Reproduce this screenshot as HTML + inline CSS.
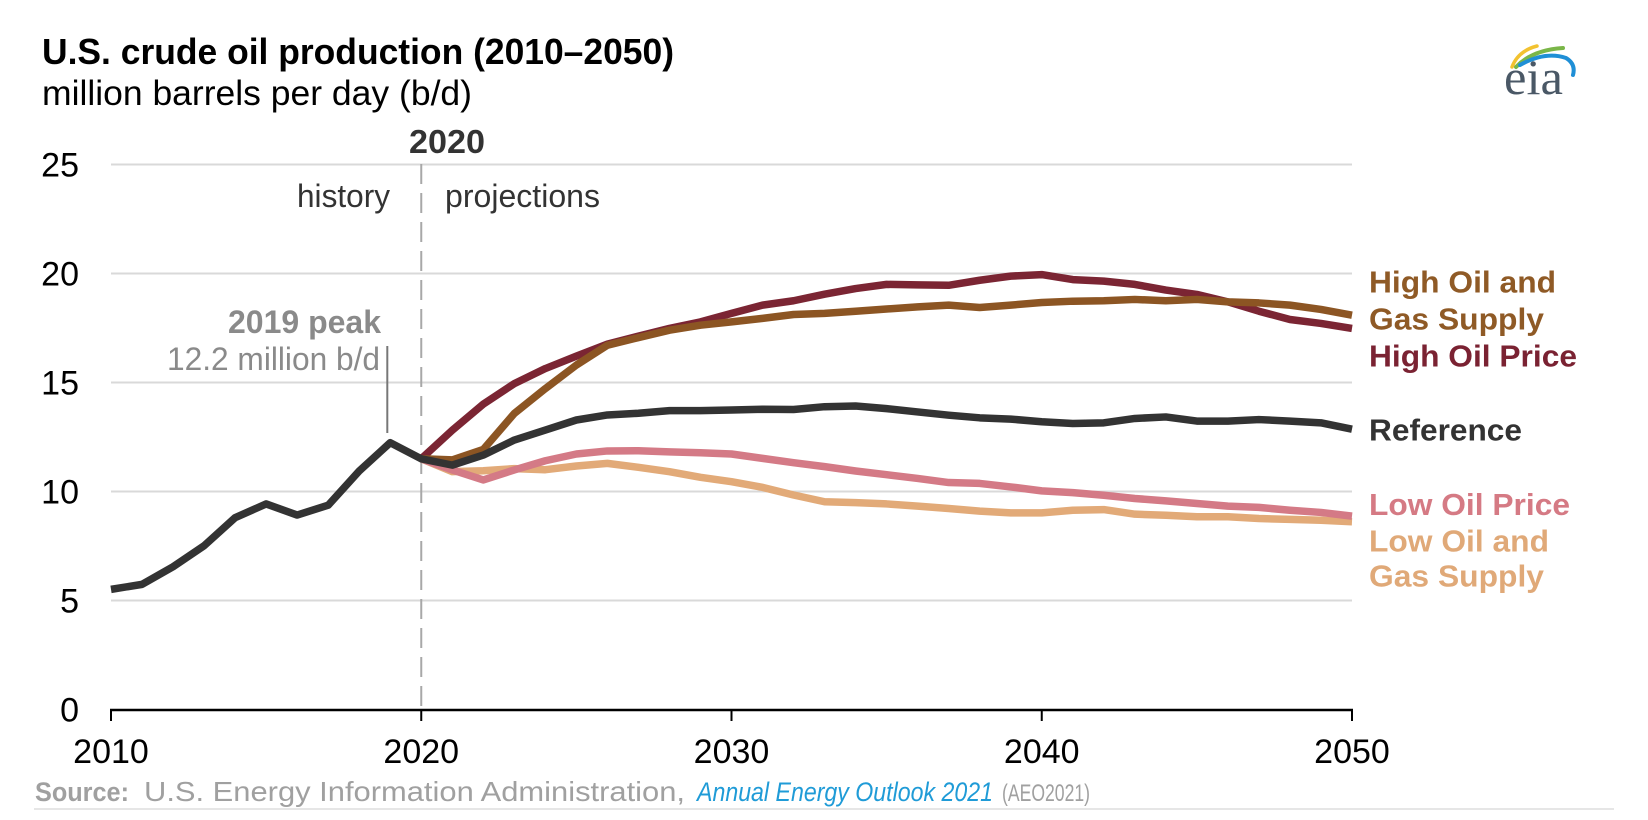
<!DOCTYPE html>
<html>
<head>
<meta charset="utf-8">
<style>
  html, body { margin: 0; padding: 0; background: #ffffff; }
  svg { display: block; }
  text { font-family: "Liberation Sans", Arial, sans-serif; }
</style>
</head>
<body>
<svg width="1648" height="820" viewBox="0 0 1648 820" xmlns="http://www.w3.org/2000/svg">
  <rect x="0" y="0" width="1648" height="820" fill="#ffffff"/>

  <!-- Title -->
  <text x="42" y="64" font-size="36" font-weight="bold" fill="#000" textLength="632" lengthAdjust="spacingAndGlyphs">U.S. crude oil production (2010–2050)</text>
  <text x="42" y="105" font-size="35" fill="#000" textLength="430" lengthAdjust="spacingAndGlyphs">million barrels per day (b/d)</text>

  <!-- eia logo -->
  <g fill="none" stroke-linecap="round">
    <path d="M1512,67 Q1518,51 1537,46" stroke="#f2c230" stroke-width="3.5"/>
    <path d="M1516,67 Q1532,50 1563,48" stroke="#7ab648" stroke-width="4"/>
    <path d="M1520,65 Q1545,51 1566,58 Q1576,64 1573,75" stroke="#1f8fd6" stroke-width="4"/>
  </g>
  <text x="1504" y="94" font-size="50" fill="#4a5866" textLength="59" lengthAdjust="spacingAndGlyphs" style="font-family:'Liberation Serif', serif">eia</text>

  <!-- Gridlines -->
  <g stroke="#d9d9d9" stroke-width="2">
    <line x1="111" y1="164.5" x2="1352" y2="164.5"/>
    <line x1="111" y1="273.5" x2="1352" y2="273.5"/>
    <line x1="111" y1="382.5" x2="1352" y2="382.5"/>
    <line x1="111" y1="491.5" x2="1352" y2="491.5"/>
    <line x1="111" y1="600.5" x2="1352" y2="600.5"/>
  </g>

  <!-- Y labels -->
  <g font-size="34" fill="#000" text-anchor="end">
    <text x="79" y="176.5">25</text>
    <text x="79" y="285.5">20</text>
    <text x="79" y="394.5">15</text>
    <text x="79" y="503.5">10</text>
    <text x="79" y="612.5">5</text>
    <text x="79" y="721.5">0</text>
  </g>

  <!-- Dashed 2020 line -->
  <line x1="421.25" y1="164" x2="421.25" y2="710" stroke="#a8a8a8" stroke-width="2" stroke-dasharray="20 9"/>

  <!-- Annotations -->
  <text x="409" y="153" font-size="33" font-weight="bold" fill="#333" textLength="76" lengthAdjust="spacingAndGlyphs">2020</text>
  <text x="297" y="207" font-size="32" fill="#333" textLength="93" lengthAdjust="spacingAndGlyphs">history</text>
  <text x="445" y="207" font-size="32" fill="#333" textLength="155" lengthAdjust="spacingAndGlyphs">projections</text>
  <text x="228" y="333" font-size="32" font-weight="bold" fill="#8a8a8a" textLength="153" lengthAdjust="spacingAndGlyphs">2019 peak</text>
  <text x="167" y="370" font-size="32" fill="#8a8a8a" textLength="213" lengthAdjust="spacingAndGlyphs">12.2 million b/d</text>
  <line x1="387.3" y1="346" x2="387.3" y2="433" stroke="#777" stroke-width="2"/>

  <!-- Series -->
  <g fill="none" stroke-linejoin="round" stroke-linecap="butt" stroke-width="7.5">
    <polyline stroke="#e2aa78"
      points="421.25,458.8 452.28,471.66 483.3,470.79 514.33,468.61 545.35,469.7 576.38,465.99 607.4,463.38 638.43,467.3 669.45,471.66 700.48,477.33 731.5,481.69 762.53,487.36 793.55,494.99 824.58,501.75 855.6,502.62 886.63,503.93 917.65,506.11 948.68,508.5 979.7,511.12 1010.73,512.86 1041.75,512.86 1072.78,510.25 1103.8,509.59 1134.83,514.17 1165.85,515.26 1196.88,516.79 1227.9,516.79 1258.93,518.53 1289.95,519.4 1320.98,520.28 1352,521.8"/>
    <polyline stroke="#d47a86"
      points="421.25,458.8 452.28,469.92 483.3,479.95 514.33,469.92 545.35,460.76 576.38,454.0 607.4,450.95 638.43,450.73 669.45,451.82 700.48,452.7 731.5,454.0 762.53,458.36 793.55,462.72 824.58,466.65 855.6,471.01 886.63,474.71 917.65,478.42 948.68,482.56 979.7,483.43 1010.73,486.92 1041.75,490.85 1072.78,492.59 1103.8,495.21 1134.83,498.48 1165.85,500.87 1196.88,503.49 1227.9,506.11 1258.93,507.41 1289.95,510.25 1320.98,512.43 1352,516.13"/>
    <polyline stroke="#7b2533"
      points="421.25,458.8 452.28,430.24 483.3,404.08 514.33,383.59 545.35,368.55 576.38,356.12 607.4,344.13 638.43,336.07 669.45,328.44 700.48,321.9 731.5,313.39 762.53,305.11 793.55,300.75 824.58,294.21 855.6,288.54 886.63,284.4 917.65,284.84 948.68,285.27 979.7,280.26 1010.73,276.12 1041.75,274.59 1072.78,279.6 1103.8,281.13 1134.83,284.4 1165.85,290.07 1196.88,294.43 1227.9,301.84 1258.93,311.21 1289.95,319.5 1320.98,323.42 1352,328.44"/>
    <polyline stroke="#8c5523"
      points="421.25,458.8 452.28,459.89 483.3,449.43 514.33,413.46 545.35,388.6 576.38,365.06 607.4,345.22 638.43,337.59 669.45,330.18 700.48,325.17 731.5,321.9 762.53,318.41 793.55,314.48 824.58,313.39 855.6,311.21 886.63,309.03 917.65,306.85 948.68,305.11 979.7,307.51 1010.73,305.11 1041.75,302.49 1072.78,301.19 1103.8,300.75 1134.83,299.44 1165.85,300.75 1196.88,299.44 1227.9,301.84 1258.93,302.93 1289.95,305.11 1320.98,309.47 1352,315.14"/>
    <polyline stroke="#333333"
      points="111,589.38 142.03,584.37 173.05,566.71 204.08,545.78 235.1,517.66 266.13,503.93 297.15,515.04 328.18,505.23 359.2,471.01 390.23,442.67 421.25,458.8 452.28,465.12 483.3,455.09 514.33,440.05 545.35,430.02 576.38,420.0 607.4,414.98 638.43,413.24 669.45,410.62 700.48,410.62 731.5,409.97 762.53,409.31 793.55,409.53 824.58,406.7 855.6,406.04 886.63,408.66 917.65,411.93 948.68,415.2 979.7,417.82 1010.73,419.12 1041.75,421.74 1072.78,423.48 1103.8,422.83 1134.83,418.47 1165.85,416.94 1196.88,421.09 1227.9,421.09 1258.93,419.56 1289.95,421.09 1320.98,422.83 1352,429.15"/>
  </g>

  <!-- X axis -->
  <line x1="110" y1="710" x2="1353" y2="710" stroke="#000" stroke-width="2.6"/>
  <g stroke="#000" stroke-width="2">
    <line x1="111" y1="710" x2="111" y2="721"/>
    <line x1="421.25" y1="710" x2="421.25" y2="721"/>
    <line x1="731.5" y1="710" x2="731.5" y2="721"/>
    <line x1="1041.75" y1="710" x2="1041.75" y2="721"/>
    <line x1="1352" y1="710" x2="1352" y2="721"/>
  </g>
  <g font-size="34" fill="#000" text-anchor="middle">
    <text x="111" y="763">2010</text>
    <text x="421.25" y="763">2020</text>
    <text x="731.5" y="763">2030</text>
    <text x="1041.75" y="763">2040</text>
    <text x="1352" y="763">2050</text>
  </g>

  <!-- Right-side labels -->
  <g font-size="31" font-weight="bold">
    <text x="1369" y="292.7" fill="#8f5a26" textLength="187" lengthAdjust="spacingAndGlyphs">High Oil and</text>
    <text x="1369" y="329.3" fill="#8f5a26" textLength="175" lengthAdjust="spacingAndGlyphs">Gas Supply</text>
    <text x="1369" y="366.7" fill="#7a2232" textLength="208" lengthAdjust="spacingAndGlyphs">High Oil Price</text>
    <text x="1369" y="440.7" fill="#333333" textLength="153" lengthAdjust="spacingAndGlyphs">Reference</text>
    <text x="1369" y="515" fill="#d57a84" textLength="201" lengthAdjust="spacingAndGlyphs">Low Oil Price</text>
    <text x="1369" y="551.7" fill="#e0a978" textLength="180" lengthAdjust="spacingAndGlyphs">Low Oil and</text>
    <text x="1369" y="586.7" fill="#e0a978" textLength="175" lengthAdjust="spacingAndGlyphs">Gas Supply</text>
  </g>

  <!-- Source -->
  <text x="35" y="801" font-size="27" font-weight="bold" fill="#a0a0a0" textLength="94" lengthAdjust="spacingAndGlyphs">Source:</text>
  <text x="144" y="801" font-size="28" fill="#a0a0a0" textLength="541" lengthAdjust="spacingAndGlyphs">U.S. Energy Information Administration,</text>
  <text x="697" y="801" font-size="27" font-style="italic" fill="#1f9bd7" textLength="296" lengthAdjust="spacingAndGlyphs">Annual Energy Outlook 2021</text>
  <text x="1002" y="801" font-size="24" fill="#a0a0a0" textLength="88" lengthAdjust="spacingAndGlyphs">(AEO2021)</text>
  <line x1="34" y1="809" x2="1614" y2="809" stroke="#e6e6e6" stroke-width="2"/>
</svg>
</body>
</html>
